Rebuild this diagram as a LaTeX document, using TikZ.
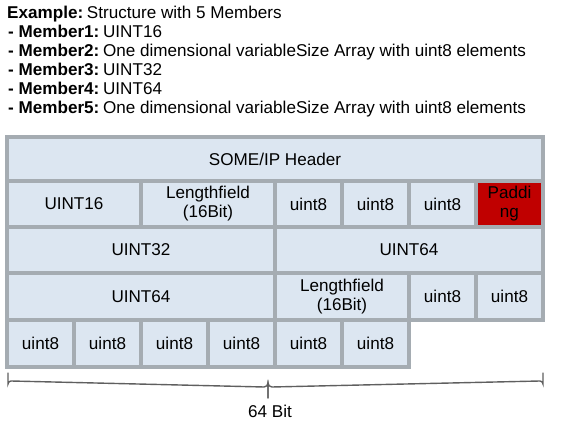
\documentclass[tikz,border=0pt]{standalone}
\usepackage{fontspec}
\setmainfont{Liberation Sans}
\definecolor{cellfill}{HTML}{DCE6F1}
\definecolor{cellline}{HTML}{A5ACB2}
\definecolor{padred}{HTML}{C00000}
\definecolor{bracegray}{HTML}{5F5F5F}
\begin{document}
\begin{tikzpicture}[x=1pt,y=-1pt,
  cell/.style={draw=cellline, fill=cellfill, line width=3.5pt, anchor=north west,
    inner sep=0pt, outer sep=0pt, align=center,
    font=\fontsize{17.1}{19}\selectfont},
  padcell/.style={cell, fill=padred},
  infoline/.style={anchor=base west, inner sep=0pt, font=\fontsize{17.1}{19}\selectfont},
  bitlabel/.style={anchor=base, inner sep=0pt, font=\fontsize{17.1}{19}\selectfont}]
\useasboundingbox (0,0) rectangle (566,427);
% top description
\node[infoline] (l1) at (7,19) {\textbf{Example:}\kern3.7pt Structure with 5 Members};
\node[infoline] (l2) at (8,38) {\textbf{- Member1:}\kern3.7pt UINT16};
\node[infoline] (l3) at (8,57) {\textbf{- Member2:}\kern3.7pt One dimensional variableSize Array with uint8 elements};
\node[infoline] (l4) at (8,76) {\textbf{- Member3:}\kern3.7pt UINT32};
\node[infoline] (l5) at (8,95) {\textbf{- Member4:}\kern3.7pt UINT64};
\node[infoline] (l6) at (8,114) {\textbf{- Member5:}\kern3.7pt One dimensional variableSize Array with uint8 elements};
% header row
\node[cell, minimum width=536pt, minimum height=44pt] (hdr) at (7,137) {SOME/IP Header};
% row 2
\node[cell, minimum width=134pt, minimum height=46pt] (r2a) at (7,181) {UINT16};
\node[cell, minimum width=134pt, minimum height=46pt] (r2b) at (141,181) {Lengthfield\\(16Bit)};
\node[cell, minimum width=67pt, minimum height=46pt] (r2c) at (275,181) {uint8};
\node[cell, minimum width=67pt, minimum height=46pt] (r2d) at (342,181) {uint8};
\node[cell, minimum width=67pt, minimum height=46pt] (r2e) at (409,181) {uint8};
\node[padcell, minimum width=67pt, minimum height=46pt] (r2f) at (476,181) {Paddi\\ng};
% row 3
\node[cell, minimum width=268pt, minimum height=46pt] (r3a) at (7,227) {UINT32};
\node[cell, minimum width=268pt, minimum height=46pt] (r3b) at (275,227) {UINT64};
% row 4
\node[cell, minimum width=268pt, minimum height=47pt] (r4a) at (7,273) {UINT64};
\node[cell, minimum width=134pt, minimum height=47pt] (r4b) at (275,273) {Lengthfield\\(16Bit)};
\node[cell, minimum width=67pt, minimum height=47pt] (r4c) at (409,273) {uint8};
\node[cell, minimum width=67pt, minimum height=47pt] (r4d) at (476,273) {uint8};
% row 5
\node[cell, minimum width=67pt, minimum height=47pt] (r5a) at (7,320) {uint8};
\node[cell, minimum width=67pt, minimum height=47pt] (r5b) at (74,320) {uint8};
\node[cell, minimum width=67pt, minimum height=47pt] (r5c) at (141,320) {uint8};
\node[cell, minimum width=67pt, minimum height=47pt] (r5d) at (208,320) {uint8};
\node[cell, minimum width=67pt, minimum height=47pt] (r5e) at (275,320) {uint8};
\node[cell, minimum width=67pt, minimum height=47pt] (r5f) at (342,320) {uint8};
% brace
\coordinate (bl) at (8,373);
\coordinate (br) at (543,373);
\coordinate (bt) at (268,398);
\draw[bracegray, line width=1.4pt, line cap=round]
  (bl) -- (8,384) arc[start angle=180, end angle=90, radius=3pt]
  -- (264,387) arc[start angle=270, end angle=360, radius=4pt] -- (bt);
\draw[bracegray, line width=1.4pt, line cap=round]
  (br) -- (543,384) arc[start angle=0, end angle=90, radius=3pt]
  -- (272,387) arc[start angle=270, end angle=180, radius=4pt] -- (bt);
\node[bitlabel] (bits) at (270,418) {64 Bit};
\end{tikzpicture}
\end{document}
